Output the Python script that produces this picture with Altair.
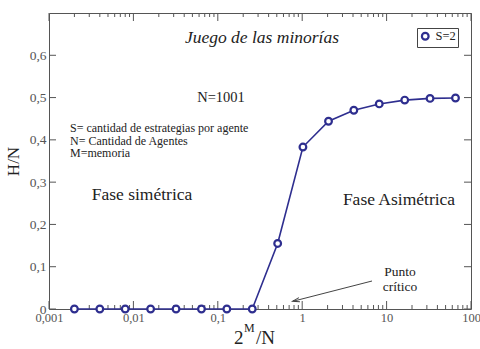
import altair as alt
import pandas as pd

# Measured points: H/N against 2^M/N (N = 1001, S = 2)
ratio = [0.002, 0.004, 0.008, 0.016, 0.032, 0.064, 0.128, 0.256,
         0.512, 1.02, 2.05, 4.09, 8.18, 16.4, 32.7, 65.5]
h_over_n = [0, 0, 0, 0, 0, 0, 0, 0,
            0.155, 0.383, 0.444, 0.470, 0.485, 0.494, 0.498, 0.499]
series = ["S=2"] * len(ratio)

# Axis tick positions
x_major = [0.001, 0.01, 0.1, 1, 10, 100]
x_minor = [m * d for d in [0.001, 0.01, 0.1, 1, 10] for m in [2, 3, 4, 5, 6, 7, 8, 9]]
y_ticks = [0, 0.1, 0.2, 0.3, 0.4, 0.5, 0.6]

W, H = 422, 296
NAVY = "#2e2e8f"
FRAME = "#555555"
SERIF = "'Liberation Serif', 'Times New Roman', 'DejaVu Serif', serif"

xs = alt.Scale(type="log", domain=[0.001, 100], nice=False)
ys = alt.Scale(domain=[0, 0.7], nice=False)

df = pd.DataFrame({"x": ratio, "y": h_over_n, "serie": series})

x_axis = alt.Axis(values=x_major, format="~g", labelExpr="replace(datum.label, '.', ',')",
                  ticks=False, domain=False, grid=False, title=None, labelFlush=False,
                  labelFont=SERIF, labelFontSize=12.5, labelColor="#555", labelPadding=2)
y_axis = alt.Axis(values=y_ticks, format="~g", labelExpr="replace(datum.label, '.', ',')",
                  ticks=False, domain=False, grid=False, title="H/N", labelFlush=False,
                  titleFont=SERIF, titleFontSize=17, titleFontWeight="normal", titleColor="#222",
                  titlePadding=7, labelFont=SERIF, labelFontSize=13.5, labelColor="#555",
                  labelPadding=3)

line = alt.Chart(df).mark_line(color=NAVY, strokeWidth=1.6).encode(
    x=alt.X("x:Q", scale=xs, axis=x_axis),
    y=alt.Y("y:Q", scale=ys, axis=y_axis),
)

points = alt.Chart(df).mark_point(shape="circle", filled=False, fill="white", fillOpacity=1,
                                  size=45, strokeWidth=2.2, opacity=1).encode(
    x=alt.X("x:Q", scale=xs),
    y=alt.Y("y:Q", scale=ys),
    color=alt.Color("serie:N", scale=alt.Scale(range=[NAVY]),
                    legend=alt.Legend(title=None, orient="none", legendX=368, legendY=15,
                                      strokeColor="#444", padding=2, fillColor="white",
                                      labelFont=SERIF, labelFontSize=12.5, labelColor="#222",
                                      labelOffset=4,
                                      symbolStrokeWidth=2.2, symbolSize=45, symbolFillColor="white")),
)


def ticks_x(values, length, top):
    y0, y1 = (0, length) if top else (H, H - length)
    return alt.Chart(pd.DataFrame({"x": values})).mark_rule(color=FRAME, strokeWidth=1).encode(
        x=alt.X("x:Q", scale=xs), y=alt.value(y0), y2=alt.value(y1))


def ticks_y(values, length, right):
    x0, x1 = (W, W - length) if right else (0, length)
    return alt.Chart(pd.DataFrame({"y": values})).mark_rule(color=FRAME, strokeWidth=1).encode(
        y=alt.Y("y:Q", scale=ys), x=alt.value(x0), x2=alt.value(x1))


def label(text, x, y, size=12, style="normal", align="center", baseline="middle"):
    return alt.Chart(pd.DataFrame({"t": [text]})).mark_text(
        font=SERIF, fontSize=size, fontStyle=style, align=align, baseline=baseline, color="#222"
    ).encode(x=alt.value(x), y=alt.value(y), text="t:N")


# "Punto crítico" arrow
arrow_line = alt.Chart(pd.DataFrame({"t": [0]})).mark_rule(color="#444", strokeWidth=1).encode(
    x=alt.value(323), y=alt.value(268), x2=alt.value(245), y2=alt.value(288))
arrow_head = alt.Chart(pd.DataFrame({"t": [0]})).mark_point(
    shape="M-0.6,1L0,-1L0.6,1", filled=False, size=50, strokeWidth=1, color="#444", angle=256,
    opacity=1).encode(x=alt.value(247), y=alt.value(287.5))

layers = [
    ticks_x(x_major, 8, False), ticks_x(x_minor, 4, False),
    ticks_x(x_major, 8, True), ticks_x(x_minor, 4, True),
    ticks_y(y_ticks, 7, False), ticks_y(y_ticks, 7, True),
    line, points,
    label("Juego de las minorías", 213, 25, size=17.5, style="italic"),
    label("N=1001", 172, 85, size=14.5),
    label("S= cantidad de estrategias por agente", 21, 115, size=12, align="left"),
    label("N= Cantidad de Agentes", 21, 127.5, size=12, align="left"),
    label("M=memoria", 21, 140, size=12, align="left"),
    label("Fase simétrica", 93, 182, size=17.5),
    label("Fase Asimétrica", 350, 187, size=17.5),
    label("Punto", 351, 259, size=13.5),
    label("crítico", 351, 274, size=13.5),
    arrow_line, arrow_head,
    # x-axis title 2^M/N
    label("2", 185, 331, size=19, align="left", baseline="alphabetic"),
    label("M", 195, 319, size=12, align="left", baseline="alphabetic"),
    label("/N", 207, 331, size=19, align="left", baseline="alphabetic"),
]

chart = alt.layer(*layers).properties(
    width=W, height=H,
    padding={"left": 49, "top": 13, "right": 9, "bottom": 40},
    autosize=alt.AutoSizeParams(type="none"),
    background="white",
).configure_view(stroke=FRAME, strokeWidth=1)

chart.save("out.html", embed_options={"renderer": "svg", "actions": False})
